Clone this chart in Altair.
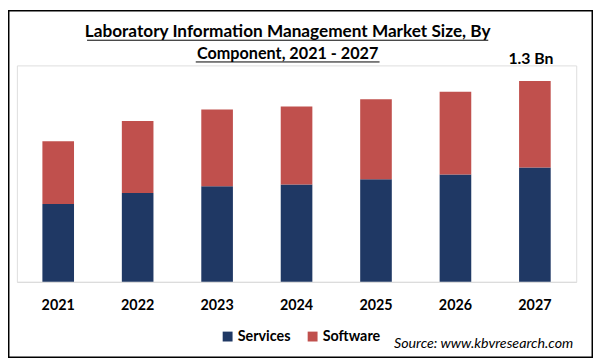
import altair as alt
import pandas as pd

years = ["2021", "2022", "2023", "2024", "2025", "2026", "2027"]
services = [0.503, 0.574, 0.619, 0.629, 0.663, 0.695, 0.740]
software = [0.407, 0.467, 0.496, 0.505, 0.518, 0.535, 0.560]
segments = ["Services", "Software"]
colors = ["#1F3864", "#C0504D"]

title_lines = ["Laboratory Information Management Market Size, By", "Component, 2021 - 2027"]
source_text = "Source: www.kbvresearch.com"

rows = []
for i, y in enumerate(years):
    rows.append({"year": y, "segment": "Services", "value": services[i], "ord": 0})
    rows.append({"year": y, "segment": "Software", "value": software[i], "ord": 1})
df = pd.DataFrame(rows)

totals = pd.DataFrame({"year": years, "total": [s + w for s, w in zip(services, software)]})
totals["label"] = totals["total"].map(lambda v: f"{v:.1f} Bn")

FONT = "Lato"
W, H = 566, 219

xscale = alt.Scale(domain=years, paddingInner=0.602, paddingOuter=0.321)
yscale = alt.Scale(domain=[0, 1.4], nice=False, zero=True)

bars = alt.Chart(df).mark_bar().encode(
    x=alt.X("year:N", scale=xscale, sort=years,
            axis=alt.Axis(title=None, labelAngle=0, ticks=False, domainColor="#d9d9d9",
                          domainWidth=1, labelFont=FONT, labelFontWeight="bold",
                          labelFontSize=14.5, labelColor="#000000", labelPadding=17, grid=False)),
    y=alt.Y("value:Q", stack="zero", scale=yscale, axis=None),
    color=alt.Color("segment:N", scale=alt.Scale(domain=segments, range=colors),
                    legend=alt.Legend(title=None, orient="none", direction="horizontal",
                                      legendX=206, legendY=267, symbolType="square",
                                      symbolSize=100, symbolStrokeWidth=0, labelFont=FONT,
                                      labelFontWeight="bold", labelFontSize=14.5,
                                      labelColor="#000000", labelOffset=3, columnPadding=15,
                                      padding=0)),
    order=alt.Order("ord:Q", sort="ascending"),
)

annot = alt.Chart(totals).transform_filter(alt.datum.year == years[-1]).mark_text(
    font=FONT, fontWeight="bold", fontSize=16, baseline="alphabetic", dy=-17, dx=-4, color="#000000"
).encode(x=alt.X("year:N", scale=xscale, sort=years), y=alt.Y("total:Q", scale=yscale), text="label:N")

one = pd.DataFrame({"a": [0]})

title1 = alt.Chart(one).mark_text(font=FONT, fontWeight="bold", fontSize=17.4, baseline="alphabetic",
                                  align="center", color="#000000").encode(
    x=alt.value(274), y=alt.value(-28.5), text=alt.value(title_lines[0]))
title2 = alt.Chart(one).mark_text(font=FONT, fontWeight="bold", fontSize=16.4, baseline="alphabetic",
                                  align="center", color="#000000").encode(
    x=alt.value(274), y=alt.value(-6.5), text=alt.value(title_lines[1]))
ul1 = alt.Chart(one).mark_rule(color="#000000", strokeWidth=1).encode(
    x=alt.value(71), x2=alt.value(477), y=alt.value(-25.5))
ul2 = alt.Chart(one).mark_rule(color="#000000", strokeWidth=1).encode(
    x=alt.value(181), x2=alt.value(367), y=alt.value(-3.5))

source = alt.Chart(one).mark_text(font=FONT, fontStyle="italic", fontSize=14.4, baseline="alphabetic",
                                  align="right", color="#000000").encode(
    x=alt.value(563), y=alt.value(285.5), text=alt.value(source_text))

border = alt.Chart(one).mark_rect(fill="transparent", stroke="#000000", strokeWidth=1.5).encode(
    x=alt.value(-8.25), x2=alt.value(582.25), y=alt.value(-55.25), y2=alt.value(295.25))

chart = alt.layer(bars, annot, title1, title2, ul1, ul2, source, border).properties(
    width=W, height=H,
    autosize=alt.AutoSizeParams(type="none"),
    padding={"left": 9, "top": 56, "right": 17, "bottom": 78},
).configure_view(stroke=None).configure(font=FONT)

chart.save("out.html", embed_options={"renderer": "svg", "actions": False})
